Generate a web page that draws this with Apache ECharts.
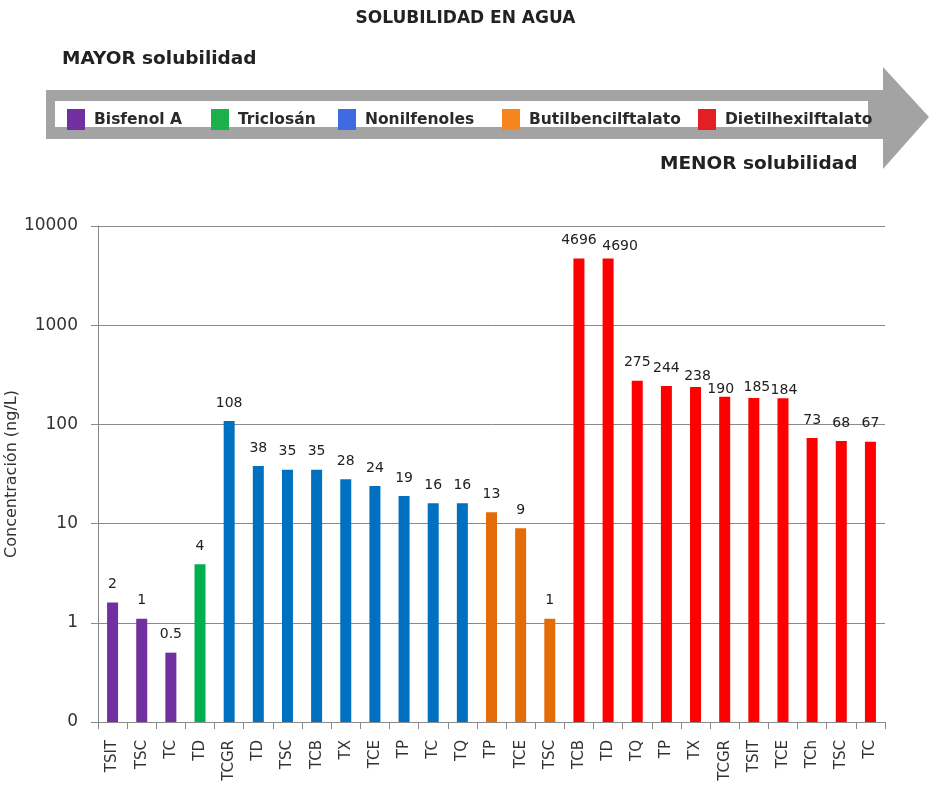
<!DOCTYPE html>
<html>
<head>
<meta charset="utf-8">
<script src="https://cdn.jsdelivr.net/npm/echarts@6/dist/echarts.min.js"></script>
<style>html,body{margin:0;padding:0;background:#fff}#c{width:931px;height:792px}</style>
</head>
<body>
<div id="c"></div>
<script>
// ---- data ----
var categories = ['TSIT','TSC','TC','TD','TCGR','TD','TSC','TCB','TX','TCE','TP','TC','TQ','TP','TCE','TSC','TCB','TD','TQ','TP','TX','TCGR','TSIT','TCE','TCh','TSC','TC'];
var groupNames = ['Bisfenol A','Triclosán','Nonilfenoles','Butilbencilftalato','Dietilhexilftalato'];
var bisfenolValues = [1.6, 1.1, 0.5];
var bisfenolLabels = ['2','1','0.5'];
var triclosanValues = [3.9];
var triclosanLabels = ['4'];
var nonilfenolValues = [108, 38, 35, 35, 28, 24, 19, 16, 16];
var nonilfenolLabels = ['108','38','35','35','28','24','19','16','16'];
var butilValues = [13, 9, 1.1];
var butilLabels = ['13','9','1'];
var dietilValues = [4696, 4690, 275, 244, 238, 190, 185, 184, 73, 68, 67];
var dietilLabels = ['4696','4690','275','244','238','190','185','184','73','68','67'];
var yMin = 0.1, yMax = 10000;
var yTickLabels = {'0.1':'0','1':'1','10':'10','100':'100','1000':'1000','10000':'10000'};

// ---- styles ----
var barColors = ['#7030A0','#00B050','#0070C0','#E36C09','#FF0000'];
var legendColors = ['#7030A0','#1DAF4C','#3F6AE2','#F7841E','#E31E24'];
var legendLeft = [62, 206, 333, 497, 693];
// label nudges (Excel-style overlap avoidance) keyed by category index
var labelNudge = {17:[12,6], 20:[2,7], 21:[-4,11], 22:[3,7], 23:[1,10]};
var BAR_W = 11;
var FONT = 'DejaVu Sans';

var groups = [
  {vals: bisfenolValues, labs: bisfenolLabels},
  {vals: triclosanValues, labs: triclosanLabels},
  {vals: nonilfenolValues, labs: nonilfenolLabels},
  {vals: butilValues, labs: butilLabels},
  {vals: dietilValues, labs: dietilLabels}
];

var series = [];
var start = 0;
groups.forEach(function(g, gi){
  var data = g.vals.map(function(v, i){ return [start + i, v, g.labs[i]]; });
  var color = barColors[gi];
  series.push({
    name: groupNames[gi],
    type: 'custom',
    itemStyle: {color: color},
    encode: {x: 0, y: 1},
    renderItem: function(params, api){
      var x = api.value(0), v = api.value(1);
      var top = api.coord([x, v]);
      var base = api.coord([x, yMin]);
      var nudge = labelNudge[x] || [0,0];
      return {
        type: 'rect',
        shape: {x: top[0] - BAR_W/2, y: top[1], width: BAR_W, height: base[1] - top[1]},
        style: {fill: color},
        textContent: {style: {text: String(data[params.dataIndex][2]), fontFamily: FONT, fontSize: 14, fill: '#222'}},
        textConfig: {position: 'top', distance: 11, offset: nudge}
      };
    },
    data: data
  });
  start += g.vals.length;
});

var legends = groupNames.map(function(n, i){
  return {
    left: legendLeft[i], top: 104,
    itemWidth: 18, itemHeight: 21, icon: 'rect',
    selectedMode: false,
    data: [{name: n, icon: 'rect', itemStyle: {color: legendColors[i]}}],
    textStyle: {fontFamily: FONT, fontWeight: 'bold', fontSize: 15.5, color: '#2a2a2a', padding: [0,0,0,4]}
  };
});

var chart = echarts.init(document.getElementById('c'));
chart.setOption({
  animation: false,
  backgroundColor: '#fff',
  legend: legends,
  graphic: [
    {type: 'polygon', z: 0, shape: {points: [[46,90],[883,90],[883,67],[929,117],[883,169],[883,139],[46,139]]},
      style: {fill: '#a3a3a3'}},
    {type: 'rect', z: 1, shape: {x: 55, y: 101, width: 813, height: 26}, style: {fill: '#ffffff'}},
    {type: 'text', left: 'center', top: 10, style: {text: 'SOLUBILIDAD EN AGUA', fontFamily: FONT, fontWeight: 'bold', fontSize: 17, fill: '#222'}},
    {type: 'text', left: 62, top: 50, style: {text: 'MAYOR solubilidad', fontFamily: FONT, fontWeight: 'bold', fontSize: 18.5, fill: '#222'}},
    {type: 'text', left: 660, top: 155, style: {text: 'MENOR solubilidad', fontFamily: FONT, fontWeight: 'bold', fontSize: 18.5, fill: '#222'}}
  ],
  grid: {left: 98, right: 46, top: 226, bottom: 70, containLabel: false, outerBoundsMode: 'none'},
  xAxis: {
    type: 'category', data: categories,
    axisLine: {lineStyle: {color: '#8a8a8a', width: 1}},
    axisTick: {show: true, length: 7, alignWithLabel: false, interval: 0, lineStyle: {color: '#8a8a8a'}},
    axisLabel: {interval: 0, rotate: 90, margin: 18, fontFamily: FONT, fontSize: 15, color: '#333'}
  },
  yAxis: {
    type: 'log', logBase: 10, min: yMin, max: yMax,
    name: 'Concentración (ng/L)', nameLocation: 'middle', nameGap: 78, nameRotate: 90,
    nameMoveOverlap: false,
    nameTextStyle: {fontFamily: FONT, fontSize: 16, color: '#333'},
    axisLine: {show: true, lineStyle: {color: '#8a8a8a', width: 1}},
    axisTick: {show: true, length: 7, lineStyle: {color: '#8a8a8a'}},
    splitLine: {show: true, lineStyle: {color: '#8a8a8a', width: 1}},
    minorTick: {show: false}, minorSplitLine: {show: false},
    axisLabel: {margin: 20, fontFamily: FONT, fontSize: 17, color: '#333',
      formatter: function(v){ var k = String(Math.round(v*10)/10); return yTickLabels[k] !== undefined ? yTickLabels[k] : ''; }}
  },
  series: series
});
</script>
</body>
</html>
